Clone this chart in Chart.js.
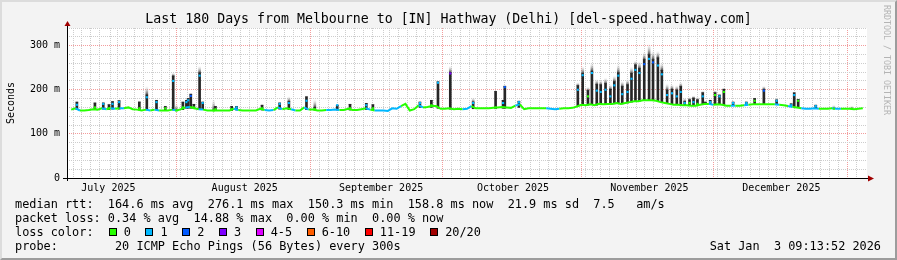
<!DOCTYPE html>
<html>
<head>
<meta charset="utf-8">
<script src="https://cdn.jsdelivr.net/npm/chart.js@4/dist/chart.umd.min.js"></script>
<style>
  html, body { margin: 0; padding: 0; background: #f3f3f3; }
  #wrap { position: relative; width: 897px; height: 260px; background: #f3f3f3; overflow: hidden; }
  #frame { position: absolute; left: 0; top: 0; width: 897px; height: 260px; box-sizing: border-box;
           border-top: 2px solid #dcdcdc; border-left: 2px solid #dcdcdc;
           border-right: 2px solid #9c9c9c; border-bottom: 2px solid #9c9c9c; pointer-events: none; }
  #chart { position: absolute; left: 0; top: 0; }
  .txt { position: absolute; font-family: "DejaVu Sans Mono", monospace; color: #000; white-space: pre; }
  #title { left: 0; width: 897px; top: 11px; line-height: 16px; font-size: 13.25px; text-align: center; }
  .row { left: 15px; font-size: 11.86px; line-height: 14px; }
  #stamp { right: 16px; top: 239px; font-size: 11.86px; line-height: 14px; }
  #rrd { left: 882px; top: 5px; font-size: 8.3px; line-height: 10px; color: #b4b4b4; writing-mode: vertical-rl; }
  .box { position: absolute; width: 8px; height: 8px; box-sizing: border-box; border: 1px solid #000; }
</style>
</head>
<body>
<div id="wrap">
  <canvas id="chart" width="897" height="260"></canvas>
  <div id="title" class="txt">Last 180 Days from Melbourne to [IN] Hathway (Delhi) [del-speed.hathway.com]</div>
  <div class="txt row" style="top:197px">median rtt:  164.6 ms avg  276.1 ms max  150.3 ms min  158.8 ms now  21.9 ms sd  7.5   am/s</div>
  <div class="txt row" style="top:211px">packet loss: 0.34 % avg  14.88 % max  0.00 % min  0.00 % now</div>
  <div class="txt row" style="top:225px">loss color:</div>
  <div class="txt row" style="top:239px">probe:        20 ICMP Echo Pings (56 Bytes) every 300s</div>
  <div id="stamp" class="txt">Sat Jan  3 09:13:52 2026</div>
  <div id="rrd" class="txt">RRDTOOL / TOBI OETIKER</div>
  <div id="frame"></div>
</div>
<script>
// loss buckets shown in the legend
const lossLabels = ["0", "1", "2", "3", "4-5", "6-10", "11-19", "20/20"];
const lossColors = ["#26ff00", "#00b8ff", "#0059ff", "#7e00ff", "#dd00ff", "#ff5e00", "#ff0000", "#a10000"];

// x axis: days since start of the 180 day window
const monthLabels = ["July 2025", "August 2025", "September 2025", "October 2025", "November 2025", "December 2025"];
const monthLabelDays = [8.46, 39.46, 70.46, 100.46, 131.46, 161.46];
const monthStartDays = [24.46, 55.46, 85.46, 116.46, 146.46, 177.46];

// y axis ticks (ms)
const yTickValues = [0, 20, 40, 60, 80, 100, 120, 140, 160, 180, 200, 220, 240, 260, 280, 300, 320, 340];

// median rtt, one value per day (ms)
const medianMs = [
  155, 158, 153, 153, 154, 156, 155, 158, 156, 158,
  157, 158, 158, 160, 156, 155, 153, 155, 153, 155,
  153, 153, 153, 155, 153, 156, 160, 161, 158, 156,
  155, 153, 153, 153, 153, 153, 153, 157, 154, 153,
  153, 153, 153, 157, 154, 153, 154, 160, 156, 158,
  156, 153, 153, 160, 155, 155, 153, 153, 154, 154,
  155, 154, 154, 157, 154, 154, 156, 158, 155, 153,
  153, 153, 152, 158, 157, 163, 168, 153, 156, 165,
  160, 161, 163, 163, 157, 157, 158, 156, 157, 156,
  157, 163, 158, 158, 158, 158, 159, 160, 161, 160,
  159, 164, 167, 156, 158, 158, 158, 158, 158, 157,
  156, 157, 158, 158, 159, 162, 166, 165, 167, 165,
  168, 167, 168, 168, 170, 168, 170, 172, 174, 174,
  176, 176, 176, 175, 172, 170, 168, 166, 166, 165,
  165, 164, 164, 166, 168, 168, 166, 167, 166, 164,
  164, 164, 164, 165, 166, 167, 167, 167, 167, 167,
  167, 166, 165, 163, 161, 160, 158, 157, 157, 158,
  157, 157, 157, 158, 157, 157, 157, 157, 156, 157,
  158
];
// days where the median line had 1 lost ping
const oneLossDays = [1, 7, 9, 11, 17, 19, 23, 26, 29, 37, 44, 45, 47, 50, 53, 58, 59, 60, 67, 69, 70, 71, 72, 73, 74,
  79, 89, 90, 101, 108, 109, 110, 145, 150, 153, 160, 163, 166, 167, 168, 169, 173, 174];

// smoke spikes
const spikeDay = [1.3, 5.4, 7.3, 8.6, 9.4, 10.9, 15.5, 17.2, 19.4, 21.4, 23.2, 23.9, 25.4, 26.2, 26.6, 27.2, 27.9, 29.2, 29.9,
  32.4, 32.8, 36.5, 37.6, 43.4, 47.4, 49.5, 53.5, 55.4, 60.5, 63.4, 67.1, 68.6, 79.3, 81.9, 83.4, 86.2, 91.4, 96.5,
  98.2, 98.6, 101.8,
  115.2, 116.3, 117.5, 118.4, 119.5, 120.4, 121.5, 122.6, 123.5, 124.4, 125.3, 126.5, 127.4, 128.3, 129.2, 130.3,
  131.4, 132.3, 133.4, 134.3, 135.5, 136.6, 137.7, 138.6, 139.5, 140.6, 141.5, 142.4, 143.6,
  144.2, 145.3, 146.4, 147.4, 148.4, 150.5, 153.5, 155.4, 157.5, 160.4, 163.7, 164.4, 165.3, 169.3, 173.4, 177.5];
const spikeLow = [155, 155, 156, 155, 156, 156, 154, 154, 154, 153, 154, 153, 155, 158, 158, 158, 157, 156, 155,
  153, 153, 153, 154, 154, 156, 155, 155, 154, 154, 154, 155, 154, 160, 160, 158, 156, 157, 157,
  158, 158, 160,
  162, 166, 165, 167, 165, 168, 167, 168, 168, 170, 168, 170, 172, 174, 174, 176,
  176, 176, 175, 172, 170, 168, 166, 166, 165, 165, 164, 164, 166,
  168, 168, 166, 167, 166, 164, 165, 167, 167, 166, 163, 161, 160, 158, 157, 157];
const spikeHigh = [172, 170, 170, 166, 173, 175, 172, 188, 176, 162, 231, 153, 172, 176, 180, 190, 167, 238, 172,
  153, 162, 162, 162, 165, 170, 173, 184, 160, 165, 167, 169, 166, 172, 176, 218, 239, 172, 196,
  176, 208, 174,
  209, 237, 198, 242, 212, 211, 214, 201, 218, 238, 207, 211, 237, 256, 248, 268,
  279, 268, 272, 244, 199, 201, 199, 207, 173, 177, 181, 177, 193,
  172, 176, 193, 188, 201, 172, 172, 180, 201, 177, 168, 193, 178, 165, 157, 157];
const spikeFade = [174, 172, 172, 168, 175, 177, 175, 207, 178, 164, 238, 166, 174, 178, 182, 192, 169, 253, 174,
  176, 164, 164, 164, 167, 172, 184, 186, 177, 167, 169, 171, 168, 174, 178, 220, 253, 181, 198,
  178, 210, 176,
  216, 252, 206, 260, 223, 221, 226, 211, 231, 256, 219, 223, 251, 265, 263, 284,
  302, 287, 287, 260, 213, 211, 209, 216, 181, 183, 186, 183, 197,
  174, 178, 198, 190, 204, 174, 174, 182, 208, 179, 170, 195, 180, 167, 165, 163];
const spikeMedian = [166, 160, 168, 158, 168, 172, 158, 183, 172, 158, 220, 153, 160, 172, 176, 186, 160, 232, 170,
  153, 156, 156, 160, 158, 168, 170, 175, 156, 165, 158, 165, 158, 170, 165, 216, 237, 170, 160,
  170, 206, 172,
  200, 233, 185, 238, 198, 195, 200, 185, 210, 232, 190, 195, 225, 245, 238, 258,
  270, 262, 255, 235, 188, 192, 185, 195, 170, 170, 172, 168, 185,
  168, 172, 188, 185, 195, 170, 170, 175, 198, 175, 165, 188, 175, 163, 157, 157];
const spikeLoss = [1, 0, 1, 0, 1, 1, 0, 1, 1, 0, 1, 0, 0, 1, 1, 2, 0, 1, 1,
  0, 0, 0, 1, 0, 1, 1, 1, 0, 1, 0, 1, 0, 1, 0, 1, 3, 1, 0,
  1, 2, 1,
  1, 1, 0, 1, 1, 1, 1, 1, 1, 1, 1, 1, 1, 1, 1, 2,
  1, 2, 1, 1, 1, 1, 1, 1, 1, 0, 1, 0, 1,
  0, 1, 0, 1, 0, 1, 1, 0, 2, 1, 1, 1, 0, 1, 0, 0];

// legend colour boxes
const wrap = document.getElementById("wrap");
let bx = 108.7;
lossLabels.forEach((lab, i) => {
  const b = document.createElement("div");
  b.className = "box";
  b.style.left = bx + "px";
  b.style.top = "228px";
  b.style.background = lossColors[i];
  wrap.appendChild(b);
  const t = document.createElement("div");
  t.className = "txt";
  t.style.cssText = "left:" + (bx + 15) + "px;top:225px;font-size:11.86px;line-height:14px";
  t.textContent = lab;
  wrap.appendChild(t);
  bx += 29.6 + lab.length * 7.14;
});

// x grid: minor line every 2 days, red line at each month start, labels mid month
const minorDays = [];
for (let k = 0; k < 90; k++) {
  const d = Math.round((1.46 + 2 * k) * 100) / 100;
  if (!monthStartDays.includes(d)) minorDays.push(d);
}
const xTickValues = Array.from(new Set(minorDays.concat(monthStartDays, monthLabelDays))).sort((a, b) => a - b);

const minorGrid = "#cdcdcd";
const majorGrid = "rgba(235,90,90,0.6)";
const monoFont = { family: "DejaVu Sans Mono", size: 10 };

function fadeFill(c) {
  const raw = c.raw;
  if (!raw || !c.chart.chartArea) return "rgba(120,120,120,0.5)";
  const y = c.chart.scales.y;
  const g = c.chart.ctx.createLinearGradient(0, y.getPixelForValue(raw.y[0]), 0, y.getPixelForValue(raw.y[1]));
  g.addColorStop(0, "rgba(40,40,40,0.9)");
  g.addColorStop(1, "rgba(215,215,215,0.15)");
  return g;
}

const plotFrame = {
  id: "plotFrame",
  beforeDraw(chart) {
    const { ctx, chartArea: a } = chart;
    ctx.save();
    ctx.fillStyle = "#ffffff";
    ctx.fillRect(a.left, a.top, a.right - a.left, a.bottom - a.top);
    ctx.restore();
  },
  afterDatasetsDraw(chart) {
    const { ctx, chartArea: a } = chart;
    const x0 = a.left + 0.5, y0 = a.bottom + 0.5;
    ctx.save();
    ctx.strokeStyle = "#000";
    ctx.lineWidth = 1;
    ctx.beginPath();
    ctx.moveTo(x0, a.bottom + 3);
    ctx.lineTo(x0, a.top - 3);
    ctx.moveTo(a.left - 4, y0);
    ctx.lineTo(a.right + 2, y0);
    ctx.stroke();
    ctx.fillStyle = "#a00000";
    ctx.beginPath();
    ctx.moveTo(x0 - 3, a.top - 2);
    ctx.lineTo(x0 + 3, a.top - 2);
    ctx.lineTo(x0, a.top - 7);
    ctx.closePath();
    ctx.fill();
    ctx.beginPath();
    ctx.moveTo(a.right + 1, y0 - 3);
    ctx.lineTo(a.right + 1, y0 + 3);
    ctx.lineTo(a.right + 7, y0);
    ctx.closePath();
    ctx.fill();
    ctx.restore();
  }
};

new Chart(document.getElementById("chart"), {
  type: "bar",
  data: {
    datasets: [
      {
        type: "bar",
        data: spikeDay.map((d, i) => ({ x: d, y: [spikeHigh[i], spikeFade[i]] })),
        backgroundColor: fadeFill,
        barThickness: 2,
        grouped: false,
        order: 4
      },
      {
        type: "bar",
        data: spikeDay.map((d, i) => ({ x: d, y: [spikeLow[i], spikeHigh[i]] })),
        backgroundColor: "#262626",
        barThickness: 2,
        grouped: false,
        order: 3
      },
      {
        type: "line",
        data: medianMs.map((v, i) => ({ x: i, y: v })),
        borderColor: lossColors[0],
        borderWidth: 2,
        pointRadius: 0,
        segment: {
          borderColor: c => oneLossDays.includes(c.p0DataIndex) ? lossColors[1] : lossColors[0]
        },
        order: 2
      },
      {
        type: "line",
        data: spikeDay.map((d, i) => ({ x: d, y: spikeMedian[i] })),
        showLine: false,
        pointStyle: "rect",
        pointRadius: 1.5,
        pointBorderWidth: 0,
        pointBackgroundColor: spikeLoss.map(l => lossColors[l]),
        pointBorderColor: spikeLoss.map(l => lossColors[l]),
        order: 1
      }
    ]
  },
  options: {
    responsive: false,
    animation: false,
    devicePixelRatio: 1,
    layout: { padding: { left: 0, right: 30, top: 28, bottom: 62 } },
    plugins: { legend: { display: false }, tooltip: { enabled: false } },
    scales: {
      x: {
        type: "linear",
        min: 0,
        max: 180,
        afterBuildTicks: s => { s.ticks = xTickValues.map(v => ({ value: v })); },
        afterFit: s => { s.height = 20; },
        grid: {
          drawTicks: false,
          lineWidth: 1,
          color: c => {
            const v = c.tick ? c.tick.value : null;
            if (monthStartDays.includes(v)) return majorGrid;
            if (minorDays.includes(v)) return minorGrid;
            return "rgba(0,0,0,0)";
          }
        },
        border: { display: false, dash: [1, 1] },
        ticks: {
          autoSkip: false,
          maxRotation: 0,
          padding: 4,
          color: "#000",
          font: monoFont,
          callback: v => {
            const i = monthLabelDays.indexOf(v);
            return i >= 0 ? monthLabels[i] : "";
          }
        }
      },
      y: {
        min: 0,
        max: 340,
        afterBuildTicks: s => { s.ticks = yTickValues.map(v => ({ value: v })); },
        afterFit: s => { s.width = 67; },
        grid: {
          drawTicks: false,
          lineWidth: 1,
          color: c => (c.tick && c.tick.value % 100 === 0) ? majorGrid : minorGrid
        },
        border: { display: false, dash: [1, 1] },
        ticks: {
          autoSkip: false,
          padding: 7,
          color: "#000",
          font: monoFont,
          callback: v => v === 0 ? "0" : (v % 100 === 0 ? v + " m" : "")
        },
        title: {
          display: true,
          text: "Seconds",
          color: "#000",
          font: { family: "DejaVu Sans Mono", size: 10 },
          padding: { top: 5, bottom: 0 }
        }
      }
    }
  },
  plugins: [plotFrame]
});
</script>
</body>
</html>
